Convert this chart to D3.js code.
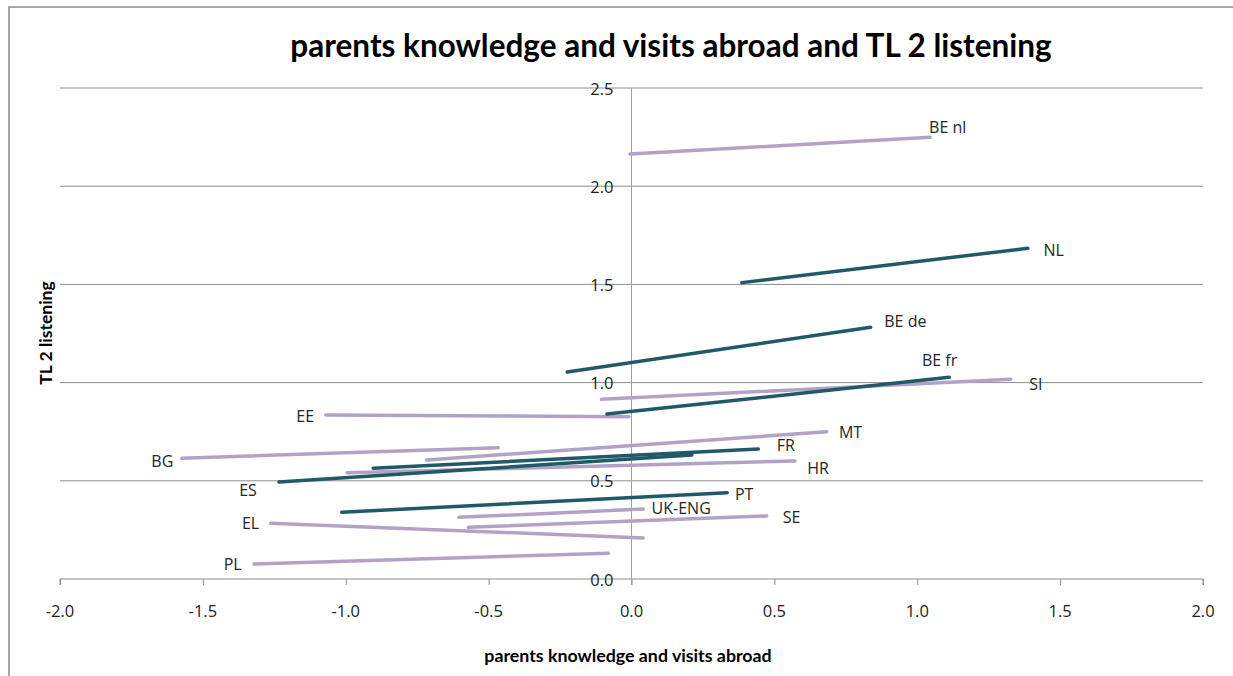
<!DOCTYPE html>
<html>
<head>
<meta charset="utf-8">
<script src="https://cdn.jsdelivr.net/npm/d3@7"></script>
<style>
  html, body { margin: 0; padding: 0; background: #fff; }
  svg { display: block; }
</style>
</head>
<body>
<svg id="chart" width="1233" height="676"></svg>
<script>
// Each country is drawn as a segment from its start point to its end point.
const countries = ["BE nl", "NL", "BE de", "BE fr", "SI", "EE", "BG", "ES", "FR", "MT", "HR", "PT", "UK-ENG", "SE", "EL", "PL"];
const xStart = [-0.005, 0.386, -0.225, -0.086, -0.105, -1.070, -1.574, -1.234, -0.904, -0.717, -0.995, -1.014, -0.604, -0.571, -1.263, -1.321];
const xEnd   = [ 1.045, 1.387,  0.837,  1.112,  1.327, -0.009, -0.466,  0.211,  0.444,  0.683,  0.572,  0.335,  0.041,  0.473,  0.041, -0.081];
const yStart = [2.164, 1.509, 1.054, 0.840, 0.915, 0.835, 0.615, 0.494, 0.564, 0.606, 0.541, 0.340, 0.314, 0.263, 0.284, 0.076];
const yEnd   = [2.249, 1.684, 1.282, 1.027, 1.017, 0.826, 0.668, 0.631, 0.662, 0.750, 0.601, 0.439, 0.356, 0.321, 0.209, 0.131];
const group  = ["light", "dark", "dark", "dark", "light", "light", "light", "dark", "dark", "light", "light", "dark", "light", "light", "light", "light"];

const xTicks = [-2.0, -1.5, -1.0, -0.5, 0.0, 0.5, 1.0, 1.5, 2.0];
const yTicks = [0.0, 0.5, 1.0, 1.5, 2.0, 2.5];

const titleText = "parents knowledge and visits abroad and TL 2 listening";
const xTitleText = "parents knowledge and visits abroad";
const yTitleText = "TL 2 listening";

// Label placement: which end of the segment it hangs from, and a pixel nudge.
const labelLayout = {
  "BE nl":  ["end", -1, -10, "start"],
  "NL":     ["end", 15.6, 1.7, "start"],
  "BE de":  ["end", 13.6, -6.6, "start"],
  "BE fr":  ["end", -27.3, -17.3, "start"],
  "SI":     ["end", 18.6, 4.7, "start"],
  "EE":     ["start", -11.7, 0.7, "end"],
  "BG":     ["start", -8.4, 2.7, "end"],
  "ES":     ["start", -22, 8, "end"],
  "FR":     ["end", 18.4, -4, "start"],
  "MT":     ["end", 12.3, 0.3, "start"],
  "HR":     ["end", 12.3, 7.3, "start"],
  "PT":     ["end", 7.7, 1.3, "start"],
  "UK-ENG": ["end", 8.4, -0.7, "start"],
  "SE":     ["end", 16, 0.7, "start"],
  "EL":     ["start", -11.4, -0.6, "end"],
  "PL":     ["start", -12.3, 0, "end"]
};

const colour = { light: "#B3A2C7", dark: "#215968" };

const rows = countries.map((c, i) => ({
  name: c, x0: xStart[i], x1: xEnd[i], y0: yStart[i], y1: yEnd[i], group: group[i]
}));

const svg = d3.select("#chart");
const plot = { left: 60, right: 1203, top: 88, bottom: 579 };

const x = d3.scaleLinear().domain([-2, 2]).range([plot.left, plot.right]);
const y = d3.scaleLinear().domain([0, 2.5]).range([plot.bottom, plot.top]);

// outer chart frame
svg.append("rect")
  .attr("x", 9).attr("y", 7).attr("width", 1400).attr("height", 800)
  .attr("fill", "none").attr("stroke", "#8a8a8a").attr("stroke-width", 1.5);

// title
svg.append("text")
  .attr("x", 671).attr("y", 57)
  .attr("text-anchor", "middle")
  .attr("font-family", "Lato, 'Open Sans', sans-serif")
  .attr("font-weight", "bold")
  .attr("font-size", 31.5)
  .attr("fill", "#000")
  .text(titleText);

// horizontal gridlines
svg.append("g")
  .selectAll("line")
  .data(yTicks.filter(d => d > 0))
  .join("line")
  .attr("x1", plot.left).attr("x2", plot.right)
  .attr("y1", d => y(d)).attr("y2", d => y(d))
  .attr("stroke", "#8c8c8c").attr("stroke-width", 1);

// x axis along y = 0, ticks pointing down
const xAxis = d3.axisBottom(x).tickValues(xTicks).tickSize(6).tickFormat(() => "");
const gx = svg.append("g").attr("transform", `translate(0,${y(0)})`).call(xAxis);
gx.select(".domain").attr("stroke", "#8c8c8c").attr("d", `M${plot.left},6V0H${plot.right}V6`);
gx.selectAll(".tick line").attr("stroke", "#8c8c8c");

svg.append("g")
  .selectAll("text")
  .data(xTicks)
  .join("text")
  .attr("x", d => x(d))
  .attr("y", 610)
  .attr("text-anchor", "middle")
  .attr("dominant-baseline", "central")
  .attr("font-family", "'Open Sans', sans-serif")
  .attr("font-size", 16.5)
  .attr("fill", "#222")
  .text(d => d3.format(".1f")(d).replace("−", "-"));

// y axis along x = 0
const yAxis = d3.axisLeft(y).tickValues(yTicks).tickSize(0).tickFormat(() => "");
const gy = svg.append("g").attr("transform", `translate(${x(0)},0)`).call(yAxis);
gy.select(".domain").attr("stroke", "#a0a0a0").attr("d", `M0,${plot.top}V${plot.bottom + 6}`);

svg.append("g")
  .selectAll("text")
  .data(yTicks)
  .join("text")
  .attr("x", x(0) - 18)
  .attr("y", d => y(d))
  .attr("text-anchor", "end")
  .attr("dominant-baseline", "central")
  .attr("font-family", "'Open Sans', sans-serif")
  .attr("font-size", 16.5)
  .attr("fill", "#222")
  .text(d => d3.format(".1f")(d));

// axis titles
svg.append("text")
  .attr("x", 628).attr("y", 662)
  .attr("text-anchor", "middle")
  .attr("font-family", "Lato, 'Open Sans', sans-serif")
  .attr("font-weight", "bold")
  .attr("font-size", 17.8)
  .attr("fill", "#000")
  .text(xTitleText);

svg.append("text")
  .attr("transform", "translate(52,333) rotate(-90)")
  .attr("text-anchor", "middle")
  .attr("font-family", "Lato, 'Open Sans', sans-serif")
  .attr("font-weight", "bold")
  .attr("font-size", 17.5)
  .attr("fill", "#000")
  .text(yTitleText);

// segments: light ones first, dark ones on top
const ordered = rows.filter(d => d.group === "light").concat(rows.filter(d => d.group === "dark"));
svg.append("g")
  .selectAll("line")
  .data(ordered)
  .join("line")
  .attr("x1", d => x(d.x0)).attr("y1", d => y(d.y0))
  .attr("x2", d => x(d.x1)).attr("y2", d => y(d.y1))
  .attr("stroke", d => colour[d.group])
  .attr("stroke-width", 3.5)
  .attr("stroke-linecap", "round");

// country labels
svg.append("g")
  .selectAll("text")
  .data(rows)
  .join("text")
  .each(function (d) {
    const [end, dx, dy, anchor] = labelLayout[d.name];
    const px = end === "end" ? x(d.x1) : x(d.x0);
    const py = end === "end" ? y(d.y1) : y(d.y0);
    d3.select(this)
      .attr("x", px + dx).attr("y", py + dy)
      .attr("text-anchor", anchor);
  })
  .attr("dominant-baseline", "central")
  .attr("font-family", "'Open Sans', sans-serif")
  .attr("font-size", 16)
  .attr("fill", "#262626")
  .text(d => d.name);
</script>
</body>
</html>
